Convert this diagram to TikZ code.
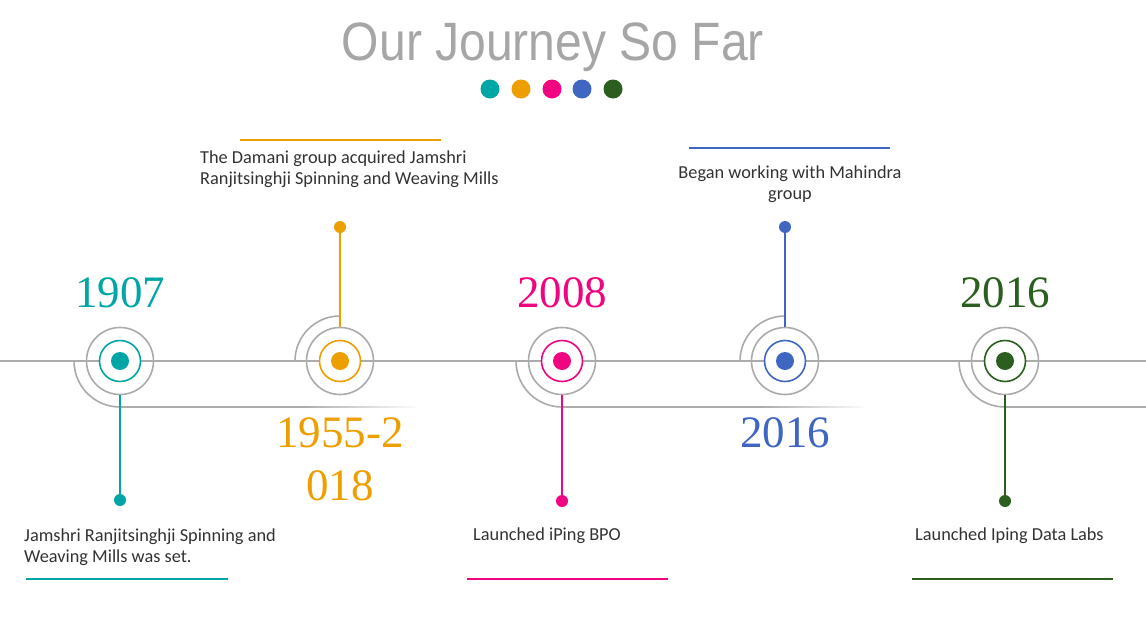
\documentclass[tikz,border=0pt]{standalone}
\usepackage{fontspec}
\setmainfont{Carlito}
\newfontfamily\titlefont{Liberation Sans}
\newfontfamily\yearfont{Liberation Serif}
\definecolor{cteal}{HTML}{00A6A6}
\definecolor{corange}{HTML}{EE9F00}
\definecolor{cmag}{HTML}{F0047F}
\definecolor{cblue}{HTML}{3F67C1}
\definecolor{cgreen}{HTML}{2C5F1F}
\definecolor{lgray}{HTML}{ABABAB}
\definecolor{tgray}{HTML}{A6A6A6}
\definecolor{txt}{HTML}{333333}
\begin{document}
\begin{tikzpicture}[x=1pt,y=-1pt,
  gline/.style={draw=lgray,line width=1.6pt},
  outer/.style={circle,draw=lgray,line width=1.6pt,minimum size=67pt,inner sep=0pt},
  ring/.style={circle,draw=#1,line width=1.6pt,fill=white,minimum size=41pt,inner sep=0pt},
  core/.style={circle,fill=#1,minimum size=18pt,inner sep=0pt},
  enddot/.style={circle,fill=#1,minimum size=12pt,inner sep=0pt},
  hdot/.style={circle,fill=#1,minimum size=19pt,inner sep=0pt},
  stem/.style={draw=#1,line width=1.6pt},
  bar/.style={draw=#1,line width=2pt},
  year/.style={anchor=base,text=#1,font=\yearfont\fontsize{45}{53}\selectfont,inner sep=0pt,align=center},
  desc/.style={text=txt,font=\fontsize{18.3}{21}\selectfont,inner sep=0pt}]
\useasboundingbox (0,0) rectangle (1146,616);
\fill[white] (0,0) rectangle (1146,616);
% title
\node[anchor=base,text=tgray,font=\titlefont\fontsize{54}{60}\selectfont,inner sep=0pt] (title) at (553,60) {\scalebox{0.89}[1]{Our Journey So Far}};
\node[hdot=cteal] (h1) at (490,89) {};
\node[hdot=corange] (h2) at (521,89) {};
\node[hdot=cmag] (h3) at (552,89) {};
\node[hdot=cblue] (h4) at (582,89) {};
\node[hdot=cgreen] (h5) at (613,89) {};
% main line
\draw[gline] (0,361) -- (1146,361);
% lower arcs and lines
\draw[gline] (74,361) arc[start angle=180,end angle=270,radius=46pt] -- (300,407);
\shade[left color=lgray,right color=white] (300,406.2) rectangle (420,407.8);
\draw[gline] (516,361) arc[start angle=180,end angle=270,radius=46pt] -- (760,407);
\shade[left color=lgray,right color=white] (760,406.2) rectangle (868,407.8);
\draw[gline] (959,361) arc[start angle=180,end angle=270,radius=46pt] -- (1146,407);
% upper arcs
\draw[gline] (295,361) arc[start angle=180,end angle=90,radius=45pt];
\draw[gline] (740,361) arc[start angle=180,end angle=90,radius=45pt];
% milestones
\node[outer] (o1) at (120,361) {};
\node[ring=cteal] (r1) at (120,361) {};
\node[core=cteal] (c1) at (120,361) {};
\node[outer] (o2) at (340,361) {};
\node[ring=corange] (r2) at (340,361) {};
\node[core=corange] (c2) at (340,361) {};
\node[outer] (o3) at (562,361) {};
\node[ring=cmag] (r3) at (562,361) {};
\node[core=cmag] (c3) at (562,361) {};
\node[outer] (o4) at (785,361) {};
\node[ring=cblue] (r4) at (785,361) {};
\node[core=cblue] (c4) at (785,361) {};
\node[outer] (o5) at (1005,361) {};
\node[ring=cgreen] (r5) at (1005,361) {};
\node[core=cgreen] (c5) at (1005,361) {};
% stems
\node[enddot=cteal] (e1) at (120,500) {};
\node[enddot=corange] (e2) at (340,227) {};
\node[enddot=cmag] (e3) at (562,501) {};
\node[enddot=cblue] (e4) at (785,227) {};
\node[enddot=cgreen] (e5) at (1005,501) {};
\draw[stem=cteal] (o1.south) -- (e1.center);
\draw[stem=corange] (o2.north) -- (e2.center);
\draw[stem=cmag] (o3.south) -- (e3.center);
\draw[stem=cblue] (o4.north) -- (e4.center);
\draw[stem=cgreen] (o5.south) -- (e5.center);
% years
\node[year=cteal] (y1) at (120,307) {1907};
\node[year=corange] (y2a) at (340,447) {1955-2};
\node[year=corange] (y2b) at (340,500) {018};
\node[year=cmag] (y3) at (562,307) {2008};
\node[year=cblue] (y4) at (785,447) {2016};
\node[year=cgreen] (y5) at (1005,307) {2016};
% descriptions
\node[desc,anchor=base west] (d1a) at (24,541) {Jamshri Ranjitsinghji Spinning and};
\node[desc,anchor=base west] (d1b) at (24,562) {Weaving Mills was set.};
\node[desc,anchor=base west] (d2a) at (200,163) {The Damani group acquired Jamshri};
\node[desc,anchor=base west] (d2b) at (200,184) {Ranjitsinghji Spinning and Weaving Mills};
\node[desc,anchor=base] (d4a) at (790,178) {Began working with Mahindra};
\node[desc,anchor=base] (d4b) at (790,199) {group};
\node[desc,anchor=base west] (d3) at (473,540) {Launched iPing BPO};
\node[desc,anchor=base west] (d5) at (915,540) {Launched Iping Data Labs};
% bars
\draw[bar=cteal] (26,579) -- (228,579);
\draw[bar=corange] (240,140) -- (441,140);
\draw[bar=cmag] (467,579) -- (668,579);
\draw[bar=cblue] (689,148) -- (890,148);
\draw[bar=cgreen] (912,579) -- (1113,579);
\end{tikzpicture}
\end{document}
